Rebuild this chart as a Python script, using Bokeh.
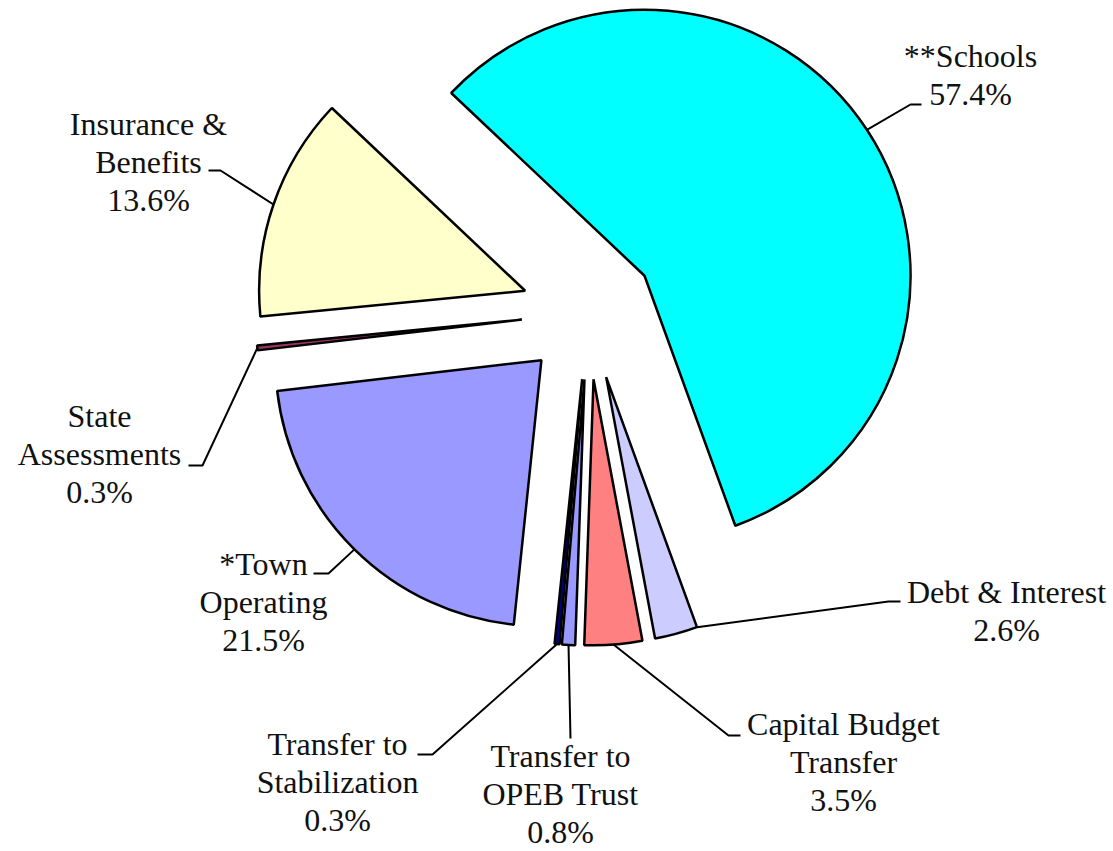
import math
from bokeh.plotting import figure
from bokeh.models import Range1d, ColumnDataSource
from bokeh.embed import file_html
from bokeh.resources import INLINE
from bokeh.core.properties import value

# ---- data ----
categories = ["**Schools", "Debt & Interest", "Capital Budget\nTransfer",
              "Transfer to\nOPEB Trust", "Transfer to\nStabilization",
              "*Town\nOperating", "State\nAssessments", "Insurance &\nBenefits"]
shares = [57.4, 2.6, 3.5, 0.8, 0.3, 21.5, 0.3, 13.6]
colors = ["#00FFFF", "#CCCCFF", "#FF8080", "#9999FF", "#000080",
          "#9999FF", "#993366", "#FFFFCC"]

# ---- layout (page pixel positions) ----
W, H = 1113, 851
def D(sx, sy):
    return (sx, H - sy)

CX, CY = D(588, 312)
R = 266
EXPLODE = 67
START_DEG = 136.6
LINE_STEP = 38
TEXT_ADJ = -10   # renderer baseline correction

attach_frac = [0.5, 1.0, 0.5, 0.5, 0.5, 0.5, 0.5, 0.5]
label_cx = [970, 1006, 843, 560, 337, 263, 99, 148]
label_y0 = [65, 601, 733, 765, 753, 573, 425, 133]
elbows = [(910, 104), (888, 601), (728, 735), (570, 738), (432, 754),
          (328, 573), (202, 465), (220, 170)]
ends = [(921, 104), (900, 601), (740, 735), (570, 738), (417, 754),
        (313, 573), (188, 465), (208, 170)]

p = figure(width=W, height=H, output_backend="svg", toolbar_location=None,
           x_range=Range1d(0, W), y_range=Range1d(0, H), min_border=0,
           background_fill_color="white", border_fill_color="white")
p.axis.visible = False
p.grid.visible = False
p.outline_line_color = None

wx, wy, a0s, a1s = [], [], [], []
lxs, lys = [], []
tx, ty, tt = [], [], []
a_hi = math.radians(START_DEG)
for i, (cat, v) in enumerate(zip(categories, shares)):
    span = v / 100.0 * 2 * math.pi
    a_lo = a_hi - span
    mid = (a_lo + a_hi) / 2
    ax = CX + EXPLODE * math.cos(mid)
    ay = CY + EXPLODE * math.sin(mid)
    wx.append(ax); wy.append(ay); a0s.append(a_lo); a1s.append(a_hi)
    at = a_lo + attach_frac[i] * span
    px, py = ax + R * math.cos(at), ay + R * math.sin(at)
    ex, ey = D(*elbows[i])
    fx, fy = D(*ends[i])
    lxs.append([px, ex, fx]); lys.append([py, ey, fy])
    lines = cat.split("\n") + [f"{v:.1f}%"]
    for k, ln in enumerate(lines):
        x, y = D(label_cx[i], label_y0[i] + k * LINE_STEP + TEXT_ADJ)
        tx.append(x); ty.append(y); tt.append(ln)
    a_hi = a_lo

src = ColumnDataSource(dict(x=wx, y=wy, a0=a0s, a1=a1s, color=colors))
p.wedge(x="x", y="y", radius=R, start_angle="a0", end_angle="a1",
        direction="anticlock", fill_color="color", line_color="black",
        line_width=2.5, source=src)

p.multi_line(xs=lxs, ys=lys, line_color="black", line_width=2)

p.text(x=tx, y=ty, text=tt, text_font=value("Liberation Serif"),
       text_font_size="32px", text_align="center", text_baseline="alphabetic",
       text_color="#111111")

open("out.html", "w").write(file_html(p, INLINE))
